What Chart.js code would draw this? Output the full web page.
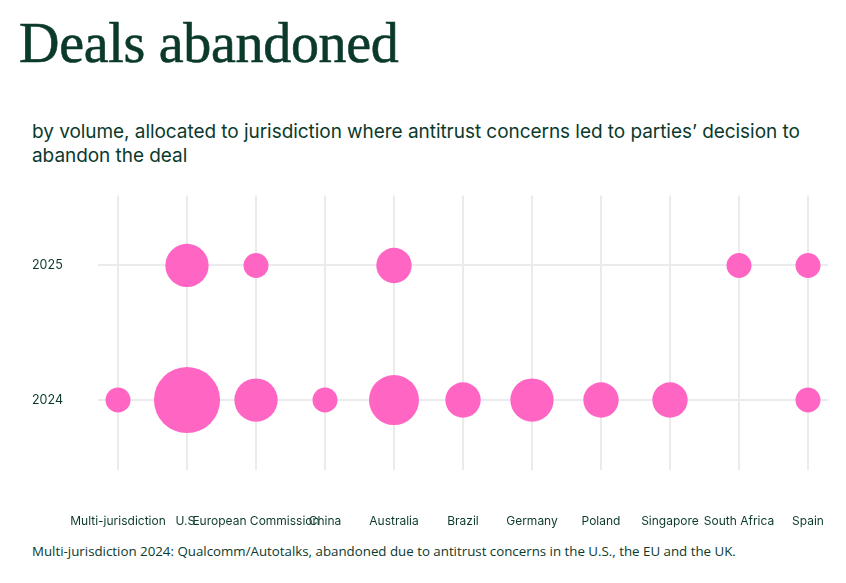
<!DOCTYPE html>
<html>
<head>
<meta charset="utf-8">
<script src="https://cdn.jsdelivr.net/npm/chart.js@4.4.1/dist/chart.umd.min.js"></script>
<style>
  body { margin: 0; background: #fff; width: 846px; height: 583px; position: relative; overflow: hidden; color: #0b3a2c; }
  #title { position: absolute; left: 19px; top: 8px; margin: 0; font-family: "Liberation Serif", serif; font-weight: 400; font-size: 56px; letter-spacing: -0.3px; line-height: 70px; -webkit-text-stroke: 0.6px #0b3a2c; }
  #sub { position: absolute; left: 32px; top: 120px; width: 800px; margin: 0; font-family: Inter, sans-serif; font-size: 19px; letter-spacing: -0.05px; line-height: 24px; }
  #note { position: absolute; left: 32px; top: 541px; margin: 0; font-family: "Open Sans", sans-serif; font-size: 13.3px; line-height: 20px; color: #0b3a2c; }
  #wrap { position: absolute; left: 0; top: 185px; width: 846px; height: 355px; }
</style>
</head>
<body>
<h1 id="title">Deals abandoned</h1>
<p id="sub">by volume, allocated to jurisdiction where antitrust concerns led to parties’ decision to abandon the deal</p>
<div id="wrap"><canvas id="myChart"></canvas></div>
<p id="note">Multi-jurisdiction 2024: Qualcomm/Autotalks, abandoned due to antitrust concerns in the U.S., the EU and the UK.</p>
<script>
// categories along the bottom and the two years
const jurisdictions = ["Multi-jurisdiction", "U.S.", "European Commission", "China", "Australia", "Brazil", "Germany", "Poland", "Singapore", "South Africa", "Spain"];
const years = ["2024", "2025"];

// number of deals abandoned per jurisdiction (0 = no bubble)
const deals2025 = [0, 3, 1, 0, 2, 0, 0, 0, 0, 1, 1];
const deals2024 = [1, 7, 3, 1, 4, 2, 3, 2, 2, 0, 1];

const pink = "#ff66c4";
const textColor = "#0b3a2c";

//turn counts into bubble points, y index 0 = 2024, 1 = 2025
const toPoints = (counts, yIndex) => {
    let pts = [];
    counts.forEach((n, i) => {
        if (n > 0) pts.push({x: i, y: yIndex, n: n});
    });
    return pts;
};

const data = {
    datasets: [
        { label: "2025", data: toPoints(deals2025, 1) },
        { label: "2024", data: toPoints(deals2024, 0) }
    ]
};

const config = {
    type: "bubble",
    data,
    options: {
        responsive: true,
        maintainAspectRatio: false,
        animation: false,
        layout: { autoPadding: false, padding: { top: 10, right: 18, left: 32, bottom: 0 } },
        plugins: { legend: { display: false }, tooltip: { enabled: false } },
        elements: {
            point: {
                backgroundColor: pink,
                borderWidth: 0,
                // area proportional to number of deals
                radius: (ctx) => ctx.raw ? 12.5 * Math.sqrt(ctx.raw.n) : 0
            }
        },
        scales: {
            x: {
                type: "linear",
                min: -0.29,
                max: 10.29,
                afterBuildTicks: (axis) => { axis.ticks = jurisdictions.map((j, i) => ({value: i})); },
                afterFit: (axis) => {
                    axis.height = 70;
                    //labels are allowed to overflow, like the original
                    axis.paddingLeft = 0;
                    axis.paddingRight = 0;
                },
                border: { display: false },
                grid: { color: "#ebebeb", lineWidth: 2, drawTicks: false },
                ticks: {
                    autoSkip: false,
                    maxRotation: 0,
                    padding: 44,
                    color: textColor,
                    font: { family: "Inter", size: 12 },
                    callback: (v) => jurisdictions[v]
                }
            },
            y: {
                type: "linear",
                min: -0.52,
                max: 1.52,
                afterBuildTicks: (axis) => { axis.ticks = years.map((y, i) => ({value: i})); },
                afterFit: (axis) => { axis.width = 66; },
                border: { display: false },
                grid: { color: "#ebebeb", lineWidth: 2, drawTicks: false },
                ticks: {
                    crossAlign: "far",
                    color: textColor,
                    font: { family: "Inter", size: 12.5 },
                    callback: (v) => years[v]
                }
            }
        }
    }
};

let ctx = document.getElementById("myChart");
let myChart = new Chart(ctx, config);
</script>
</body>
</html>
